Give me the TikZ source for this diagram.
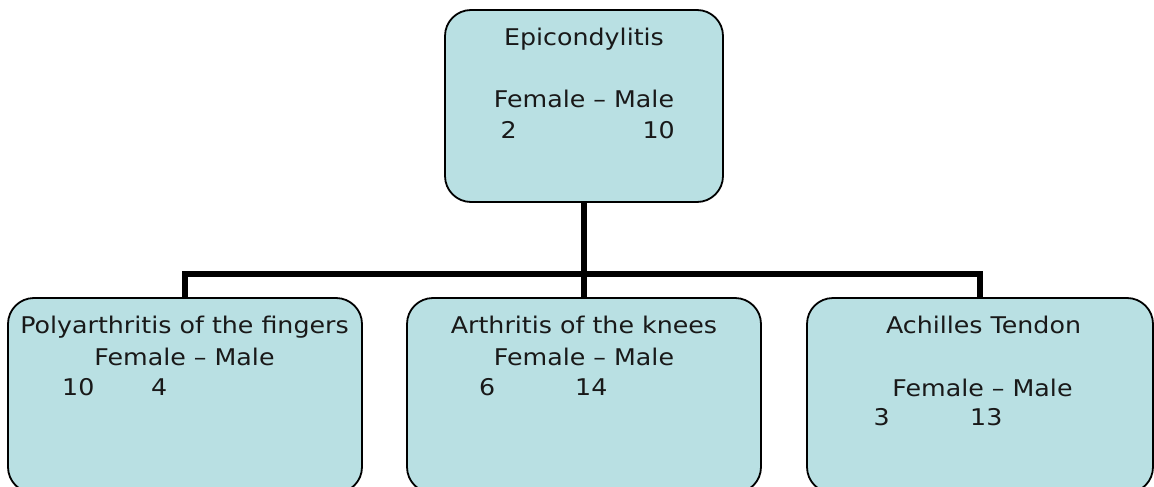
\documentclass[tikz,border=0pt]{standalone}
\usepackage{fontspec}
\setmainfont{DejaVu Sans}[FakeStretch=1.1]
\definecolor{boxfill}{RGB}{185,224,227}
\begin{document}
\begin{tikzpicture}[x=1pt, y=-1pt,
    box/.style={draw=black, line width=1.8pt, fill=boxfill, rounded corners=26pt,
      inner sep=0pt, outer sep=0pt},
    link/.style={line width=5.5pt, line join=miter},
    txt/.style={font=\fontsize{23}{31}\selectfont, inner sep=0pt, text=black!90}]
    % Moldura da página (as caixas de baixo são cortadas na borda)
    \useasboundingbox (0,0) rectangle (1154,487);
    \clip (0,0) rectangle (1154,487);

    % Caixas
    \node[box, minimum width=278pt, minimum height=192pt] (epi) at (584,106) {};
    \node[box, minimum width=354pt, minimum height=195pt] (poly) at (185,395.5) {};
    \node[box, minimum width=354pt, minimum height=195pt] (knee) at (584,395.5) {};
    \node[box, minimum width=346pt, minimum height=195pt] (ach) at (980,395.5) {};

    % Ligações em árvore
    \coordinate (hub) at (584,274);
    \draw[link] (epi.south) -- (knee.north);
    \draw[link] (poly.north) |- (hub) -| (ach.north);

    % Textos da caixa de cima
    \node[txt, anchor=base] (epiT) at (584,46) {Epicondylitis};
    \node[txt, anchor=base] (epiFM) at (584,107) {Female – Male};
    \node[txt, anchor=base west] (epiF) at (500.5,138) {2};
    \node[txt, anchor=base east] (epiM) at (675,138) {10};

    % Textos da caixa da esquerda
    \node[txt, anchor=base] (polyT) at (184.5,333) {Polyarthritis of the fingers};
    \node[txt, anchor=base] (polyFM) at (184.5,365) {Female – Male};
    \node[txt, anchor=base west] (polyF) at (62,395) {10};
    \node[txt, anchor=base west] (polyM) at (151,395) {4};

    % Textos da caixa do meio
    \node[txt, anchor=base] (kneeT) at (584,333) {Arthritis of the knees};
    \node[txt, anchor=base] (kneeFM) at (584,365) {Female – Male};
    \node[txt, anchor=base west] (kneeF) at (479,395) {6};
    \node[txt, anchor=base west] (kneeM) at (575,395) {14};

    % Textos da caixa da direita
    \node[txt, anchor=base] (achT) at (983.5,333) {Achilles Tendon};
    \node[txt, anchor=base] (achFM) at (982.5,396) {Female – Male};
    \node[txt, anchor=base west] (achF) at (873.5,425) {3};
    \node[txt, anchor=base west] (achM) at (970,425) {13};
  \end{tikzpicture}
\end{document}
